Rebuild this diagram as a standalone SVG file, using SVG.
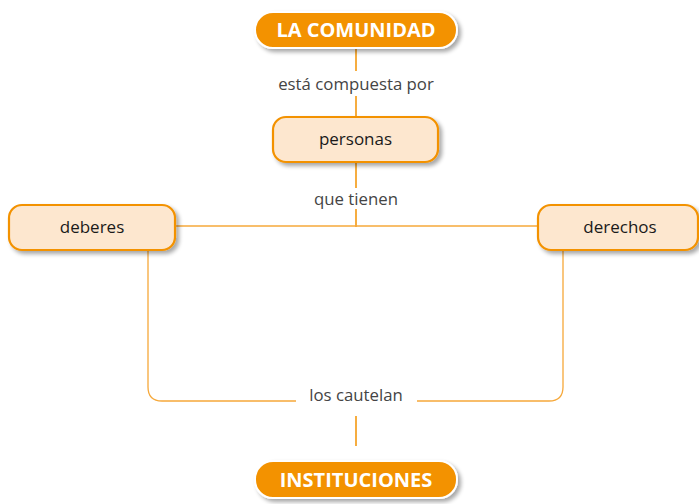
<svg xmlns="http://www.w3.org/2000/svg" width="699" height="504" viewBox="0 0 699 504">
<defs>
<filter id="sh" x="-10%" y="-20%" width="125%" height="160%">
<feGaussianBlur in="SourceAlpha" stdDeviation="2"/>
<feOffset dx="3" dy="3" result="b"/>
<feComponentTransfer><feFuncA type="linear" slope="0.35"/></feComponentTransfer>
<feMerge><feMergeNode/><feMergeNode in="SourceGraphic"/></feMerge>
</filter>
</defs>
<style>
.main{fill:#f39200;stroke:#fff;stroke-width:2;filter:url(#sh)}
.sub{fill:#fde7cf;stroke:#f39200;stroke-width:2.2;filter:url(#sh)}
.mt{font-family:"Open Sans","Noto Sans",sans-serif;font-weight:bold;font-size:20px;fill:#fff;text-anchor:middle}
.st{font-family:"Open Sans","Noto Sans",sans-serif;font-size:17px;fill:#1a1a1a;text-anchor:middle}
.lt{font-family:"Open Sans","Noto Sans",sans-serif;font-size:16.8px;fill:#444;text-anchor:middle}
.ln{fill:none;stroke:#f39200;stroke-width:1.5}
.ln2{fill:none;stroke:#f6a83a;stroke-width:1.3}
</style>
<rect width="699" height="504" fill="#fff"/>
<g id="connectors">
<line class="ln" x1="356" y1="47" x2="356" y2="71"/>
<line class="ln" x1="356" y1="96" x2="356" y2="118"/>
<line class="ln" x1="356" y1="162" x2="356" y2="188"/>
<line class="ln" x1="356" y1="209" x2="356" y2="227"/>
<line class="ln2" x1="175" y1="226" x2="539" y2="226"/>
<path class="ln2" d="M148 251 V387 Q148 401 162 401 H296"/>
<path class="ln2" d="M563 251 V387 Q563 401 549 401 H417"/>
<line class="ln" x1="356" y1="416" x2="356" y2="446"/>
</g>
<g id="labels">
<text class="lt" x="356" y="90">está compuesta por</text>
<text class="lt" x="356" y="205">que tienen</text>
<text class="lt" x="356" y="401">los cautelan</text>
</g>
<g id="la-comunidad">
<rect class="main" x="255" y="12" width="202" height="36" rx="18"/>
<text class="mt" x="356" y="37">LA COMUNIDAD</text>
</g>
<g id="personas">
<rect class="sub" x="273" y="117" width="165" height="45" rx="13"/>
<text class="st" x="355.5" y="145">personas</text>
</g>
<g id="deberes">
<rect class="sub" x="9" y="205" width="166" height="45" rx="13"/>
<text class="st" x="92" y="233">deberes</text>
</g>
<g id="derechos">
<rect class="sub" x="538" y="205" width="160" height="45" rx="13"/>
<text class="st" x="620" y="233">derechos</text>
</g>
<g id="instituciones">
<rect class="main" x="255" y="461" width="202" height="37" rx="18"/>
<text class="mt" x="356" y="487">INSTITUCIONES</text>
</g>
</svg>
